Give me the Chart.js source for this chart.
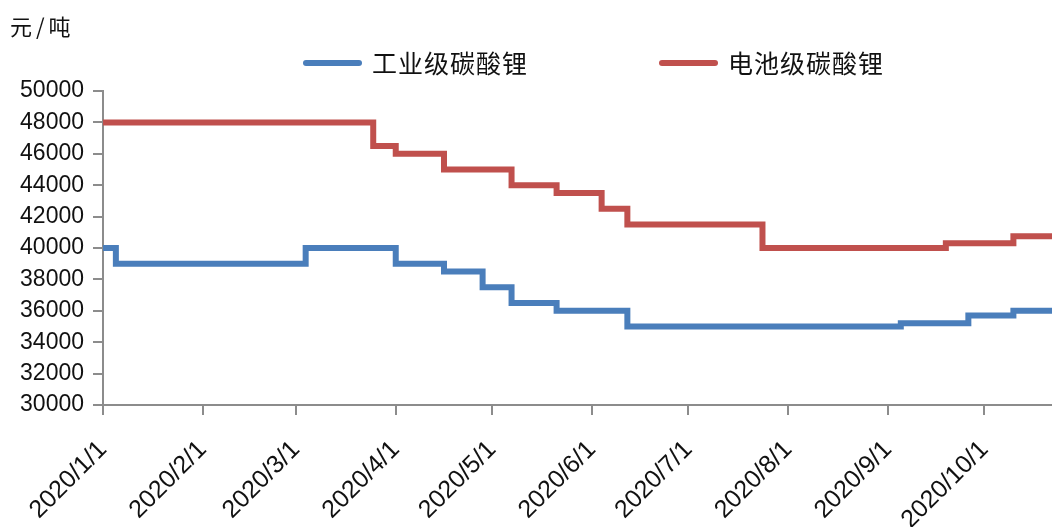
<!DOCTYPE html>
<html>
<head>
<meta charset="utf-8">
<script src="https://cdn.jsdelivr.net/npm/chart.js@4/dist/chart.umd.min.js"></script>
<style>
  html, body { margin: 0; padding: 0; background: #fff; }
  #wrap { width: 1052px; height: 527px; }
</style>
</head>
<body>
<div id="wrap"><canvas id="myChart" width="1052" height="527"></canvas></div>
<script>
//Data
const unitLabel = "元/吨"
const seriesNames = ["工业级碳酸锂", "电池级碳酸锂"]
const seriesColors = ["#4A7EBB", "#C0504D"]
const tickLabels = ["2020/1/1", "2020/2/1", "2020/3/1", "2020/4/1", "2020/5/1",
  "2020/6/1", "2020/7/1", "2020/8/1", "2020/9/1", "2020/10/1"]
const lastDate = "2020/10/22"

// tanggal perubahan harga, nilai baru berlaku mulai tanggal itu
const industrialDates = ["2020/1/1", "2020/1/5", "2020/3/4", "2020/4/1", "2020/4/16", "2020/4/28",
  "2020/5/7", "2020/5/21", "2020/6/12", "2020/9/5", "2020/9/26", "2020/10/10", "2020/10/22"]
const industrialPrices = [40000, 39000, 40000, 39000, 38500, 37500,
  36500, 36000, 35000, 35200, 35700, 36000, 36000]

const batteryDates = ["2020/1/1", "2020/3/25", "2020/4/1", "2020/4/16", "2020/5/7", "2020/5/21",
  "2020/6/4", "2020/6/12", "2020/7/24", "2020/9/19", "2020/10/10", "2020/10/22"]
const batteryPrices = [48000, 46500, 46000, 45000, 44000, 43500,
  42500, 41500, 40000, 40300, 40750, 40750]

//Hari ke-n sejak 2020/1/1
function dayOf(str) {
  let p = str.split("/").map(Number)
  return (Date.UTC(p[0], p[1] - 1, p[2]) - Date.UTC(2020, 0, 1)) / 86400000
}

function toPoints(dates, prices) {
  return dates.map((d, i) => ({x: dayOf(d), y: prices[i]}))
}

const axisGray = "#8c8c8c"
const textColor = "#111"

//Plugin untuk satuan dan legenda di atas
const header = {
  id: "header",
  afterDraw(chart) {
    let ctx = chart.ctx
    ctx.save()
    ctx.fillStyle = textColor
    ctx.textBaseline = "middle"
    ctx.font = '22px "Noto Sans CJK SC"'
    ctx.letterSpacing = "4px"
    ctx.fillText(unitLabel, 10, 27)

    let starts = [306, 662]
    ctx.font = '25px "Noto Sans CJK SC"'
    ctx.letterSpacing = "1px"
    ctx.lineCap = "round"
    ctx.lineWidth = 6
    seriesNames.forEach((name, i) => {
      ctx.strokeStyle = seriesColors[i]
      ctx.beginPath()
      ctx.moveTo(starts[i], 63)
      ctx.lineTo(starts[i] + 53, 63)
      ctx.stroke()
      ctx.fillText(name, starts[i] + 66, 63)
    })
    ctx.restore()
  }
}

const ctx = document.getElementById("myChart").getContext("2d")
const myChart = new Chart(ctx, {
  type: "line",
  data: {
    datasets: [{
      label: seriesNames[0],
      data: toPoints(industrialDates, industrialPrices),
      borderColor: seriesColors[0],
      backgroundColor: seriesColors[0],
      borderWidth: 6,
      stepped: true,
      pointRadius: 0
    },
    {
      label: seriesNames[1],
      data: toPoints(batteryDates, batteryPrices),
      borderColor: seriesColors[1],
      backgroundColor: seriesColors[1],
      borderWidth: 6,
      stepped: true,
      pointRadius: 0
    }]
  },
  options: {
    responsive: false,
    animation: false,
    layout: {padding: {top: 91, left: 0, right: 0, bottom: 0}},
    plugins: {
      legend: {display: false},
      tooltip: {enabled: false}
    },
    scales: {
      x: {
        type: "linear",
        min: 0,
        max: dayOf(lastDate),
        afterBuildTicks: (scale) => {
          scale.ticks = tickLabels.map(s => ({value: dayOf(s)}))
        },
        afterFit: (scale) => { scale.height = 122 },
        grid: {drawOnChartArea: false, color: axisGray, lineWidth: 2, tickLength: 10},
        border: {color: axisGray, width: 2},
        ticks: {
          autoSkip: false,
          minRotation: 45,
          maxRotation: 45,
          padding: 20,
          color: textColor,
          font: {family: "Liberation Sans", size: 25},
          callback: (value, index) => tickLabels[index]
        }
      },
      y: {
        min: 30000,
        max: 50000,
        afterFit: (scale) => { scale.width = 103 },
        grid: {drawOnChartArea: false, color: axisGray, lineWidth: 2, tickLength: 10},
        border: {color: axisGray, width: 2},
        ticks: {
          stepSize: 2000,
          padding: 9,
          color: textColor,
          font: {family: "Liberation Sans", size: 23},
          callback: (value) => String(value)
        }
      }
    }
  },
  plugins: [header]
})
</script>
</body>
</html>
